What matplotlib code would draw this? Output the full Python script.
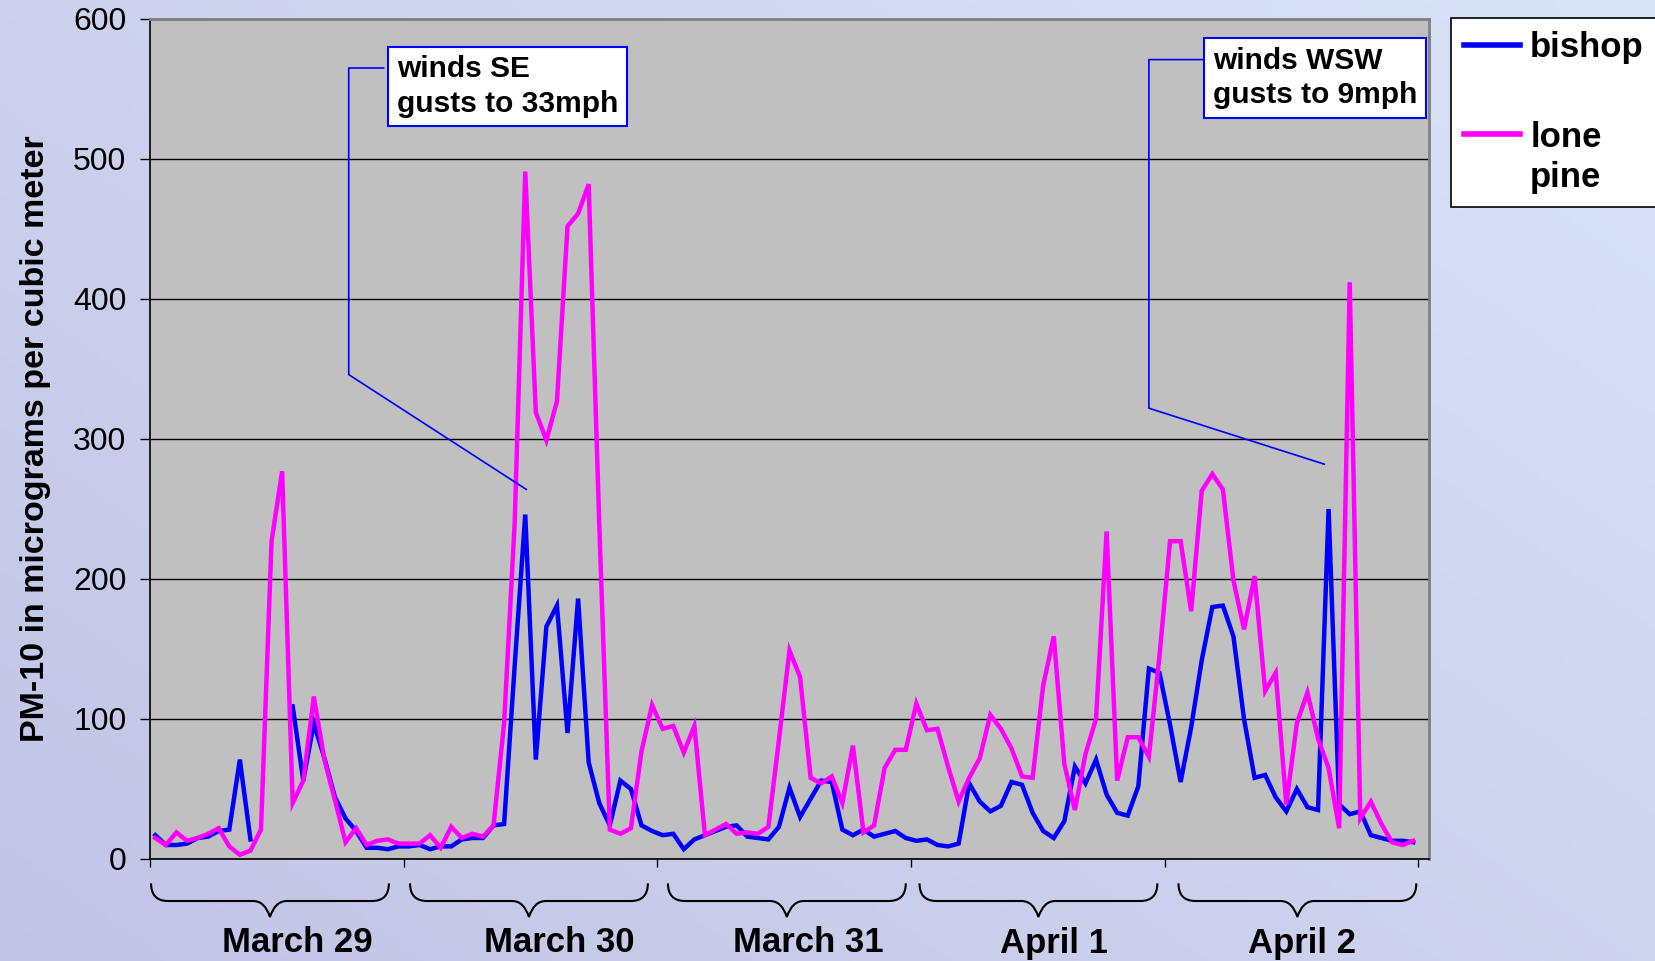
import numpy as np
import matplotlib
matplotlib.use("Agg")
import matplotlib.pyplot as plt
from matplotlib.path import Path
from matplotlib.patches import PathPatch
from matplotlib.transforms import blended_transform_factory
from matplotlib.legend_handler import HandlerLine2D

plt.rcParams['font.family'] = ['Liberation Sans', 'DejaVu Sans']

# hourly PM-10 readings, 5 days x 24 h
bishop = [17, 10, 10, 11, 15, 16, 20, 21, 71, 14, np.nan, np.nan, np.nan, 109, 56, 97, 72, 44, 29, 20, 8, 8, 7, 9,
          9, 10, 7, 9, 9, 14, 15, 15, 24, 25, 138, 246, 71, 166, 181, 90, 186, 69, 40, 24, 56, 50, 24, 20,
          17, 18, 7, 14, 17, 20, 23, 24, 16, 15, 14, 23, 51, 30, 43, 56, 55, 21, 17, 21, 16, 18, 20, 15,
          13, 14, 10, 9, 11, 54, 41, 34, 38, 55, 53, 33, 20, 15, 27, 66, 54, 71, 46, 33, 31, 52, 136, 133,
          96, 55, 94, 142, 180, 181, 159, 100, 58, 60, 44, 34, 50, 37, 35, 250, 39, 32, 34, 17, 15, 13, 13, 12]
lone_pine = [15, 10, 19, 13, 15, 18, 22, 9, 3, 6, 21, 227, 277, 40, 56, 116, 71, 42, 12, 22, 10, 13, 14, 11,
             11, 11, 17, 8, 23, 15, 18, 16, 24, 97, 240, 491, 319, 299, 327, 452, 461, 482, 240, 21, 18, 22, 77, 110,
             93, 95, 76, 95, 17, 21, 25, 18, 19, 18, 23, 85, 149, 130, 58, 54, 59, 40, 81, 19, 24, 65, 78, 78,
             111, 92, 93, 66, 41, 58, 72, 103, 93, 79, 59, 58, 124, 159, 68, 35, 75, 100, 234, 56, 87, 87, 73, 145,
             227, 227, 177, 263, 275, 264, 199, 164, 202, 120, 133, 39, 97, 119, 86, 65, 22, 412, 29, 41, 25, 12, 10, 13]

days = ['March 29', 'March 30', 'March 31', 'April 1', 'April 2']
day_label_x = [13.4, 38.2, 61.8, 85.0, 108.5]
brace_start = [-0.4, 24.1, 48.5, 72.3, 96.8]
brace_width = 22.5

notes = ['winds SE\ngusts to 33mph', 'winds WSW\ngusts to 9mph']

hours = np.arange(len(bishop))


class TopLineHandler(HandlerLine2D):
    # put the legend line level with the first line of a two-line label
    def create_artists(self, legend, orig_handle, xdescent, ydescent, width, height, fontsize, trans):
        artists = super().create_artists(legend, orig_handle, xdescent, ydescent,
                                         width, height, fontsize, trans)
        for a in artists:
            a.set_ydata(np.asarray(a.get_ydata()) + 0.72 * fontsize)
        return artists


fig = plt.figure(figsize=(16.55, 9.61), dpi=100)

# gradient background
bg = fig.add_axes([0, 0, 1, 1], zorder=-10)
gx, gy = np.meshgrid(np.linspace(0, 1, 200), np.linspace(0, 1, 200))
t = np.clip(0.55 * gx + 0.45 * gy, 0, 1)
c0 = np.array([0.76, 0.77, 0.90])
c1 = np.array([0.85, 0.89, 0.97])
img = c0[None, None, :] * (1 - t[..., None]) + c1[None, None, :] * t[..., None]
bg.imshow(img, origin='lower', extent=[0, 1, 0, 1], aspect='auto')
bg.axis('off')

ax = fig.add_axes([150 / 1655, 102 / 961, 1279 / 1655, 840 / 961])
ax.set_facecolor('#C0C0C0')

l1, = ax.plot(hours, bishop, color='#0000FF', lw=3.2, label='bishop', solid_joinstyle='miter', zorder=3)
l2, = ax.plot(hours, lone_pine, color='#FF00FF', lw=3.2, label='lone\npine', solid_joinstyle='miter', zorder=4)

ax.set_xlim(-0.5, 120.5)
ax.set_ylim(0, 600)
ax.set_yticks(range(0, 601, 100))
ax.tick_params(axis='y', labelsize=23, length=7, width=1, pad=10)
ax.set_xticks(np.arange(-0.5, 121, 24))
ax.set_xticklabels([])
ax.tick_params(axis='x', length=6, width=1)
ax.yaxis.grid(True, color='black', lw=1)
ax.set_axisbelow(True)
for s in ax.spines.values():
    s.set_color('#808080')
    s.set_linewidth(2)
ax.spines['left'].set_color('black')
ax.spines['bottom'].set_color('black')
ax.spines['left'].set_linewidth(1.2)
ax.spines['bottom'].set_linewidth(1.2)

ax.set_ylabel('PM-10 in micrograms per cubic meter', fontsize=24.5, fontweight='bold', labelpad=16)

# braces and day labels under the axis
tr = blended_transform_factory(ax.transData, ax.transAxes)
y_top, y_mid, y_bot = -0.029, -0.05, -0.069
h = 1.6
for x0, lab, lx in zip(brace_start, days, day_label_x):
    x1 = x0 + brace_width
    xm = (x0 + x1) / 2
    verts = [(x0, y_top), (x0, y_mid), (x0 + h, y_mid),
             (xm - h, y_mid),
             (xm - 0.3 * h, y_mid), (xm, y_bot),
             (xm + 0.3 * h, y_mid), (xm + h, y_mid),
             (x1 - h, y_mid),
             (x1, y_mid), (x1, y_top)]
    codes = [Path.MOVETO, Path.CURVE3, Path.CURVE3,
             Path.LINETO,
             Path.CURVE3, Path.CURVE3,
             Path.CURVE3, Path.CURVE3,
             Path.LINETO,
             Path.CURVE3, Path.CURVE3]
    ax.add_patch(PathPatch(Path(verts, codes), transform=tr, fill=False, lw=1.5,
                           edgecolor='black', clip_on=False))
    ax.text(lx, -0.1, lab, transform=tr, ha='center', va='center',
            fontsize=25, fontweight='bold')

# wind annotations with leader lines
box = dict(boxstyle='square,pad=0.28', facecolor='white', edgecolor='#0000FF', lw=1.5)
ax.text(0.193, 0.957, notes[0], transform=ax.transAxes, ha='left', va='top',
        fontsize=21.5, fontweight='bold', bbox=box, linespacing=1.3, zorder=6)
ax.text(0.831, 0.967, notes[1], transform=ax.transAxes, ha='left', va='top',
        fontsize=21.5, fontweight='bold', bbox=box, linespacing=1.3, zorder=6)
ax.plot([21.6, 18.3, 18.3, 35.1], [565, 565, 346, 264], color='#0000FF', lw=1.2, zorder=5)
ax.plot([99.4, 94.0, 94.0, 110.6], [571, 571, 322, 282], color='#0000FF', lw=1.2, zorder=5)

leg = fig.legend(handles=[l1, l2], loc='upper left', bbox_to_anchor=(1451 / 1655, 1 - 18 / 961),
                 borderaxespad=0, handler_map={l2: TopLineHandler()},
                 prop={'size': 25, 'weight': 'bold'}, frameon=True, fancybox=False,
                 edgecolor='black', framealpha=1, handlelength=1.6, handletextpad=0.3,
                 labelspacing=1.65, borderpad=0.38)
leg.get_frame().set_linewidth(1.2)
for line in leg.get_lines():
    line.set_linewidth(4)
for txt in leg.get_texts():
    txt.set_linespacing(1.25)

fig.savefig('out.png', dpi=100)
